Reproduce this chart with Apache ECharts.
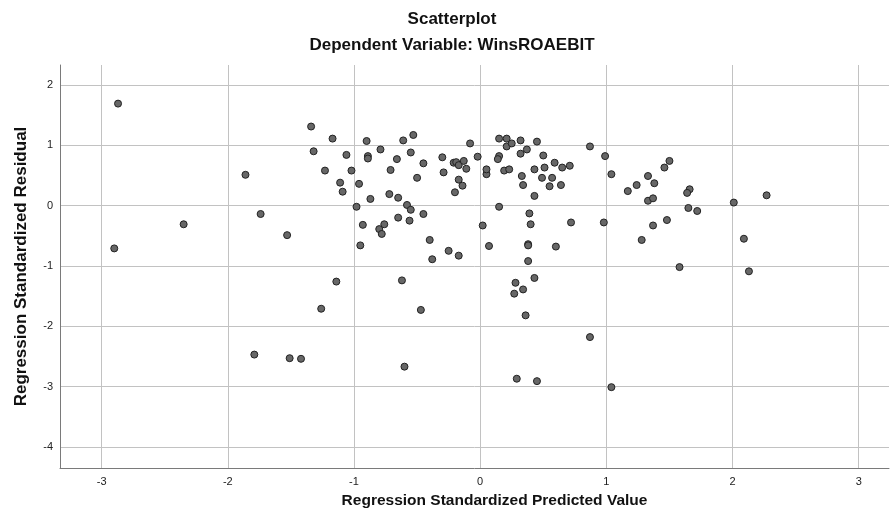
<!DOCTYPE html>
<html>
<head>
<meta charset="utf-8">
<title>Scatterplot</title>
<script src="https://cdn.jsdelivr.net/npm/echarts@6/dist/echarts.min.js"></script>
<style>
  html, body { margin: 0; padding: 0; background: #ffffff; }
  #chart { width: 892px; height: 527px; }
</style>
</head>
<body>
<div id="chart"></div>
<script>
// Regression standardized predicted values (x) and standardized residuals (y)
const predicted = [
  -2.87, -2.90, -2.35, -1.86, -1.74, -1.53, -1.79, -1.51, -1.42, -1.14,
  -1.26, -0.62, -0.47, -0.60, -0.38, -0.25, -0.17, 0.38, 0.43, 0.28,
  0.34, 0.27, 0.36, 0.29, 0.45, 1.58, 2.13, 0.87, 1.04, 0.87,
  0.99, 1.04, 0.65, 0.71, 0.64, 1.17, 1.24, 1.33, 1.38, 1.46,
  1.50, 1.33, 1.37, 1.66, 1.64, 1.65, 1.72, 2.01, 2.27, 0.72,
  0.98, 1.48, 1.37, 1.28, 2.09, -1.34, -1.17, -1.32, -1.06, -1.23,
  -1.02, -1.11, -1.09, -0.96, -0.98, -0.87, -0.90, -0.89, -0.89, -0.79,
  -0.66, -0.71, -0.61, -0.72, -0.65, -0.58, -0.55, -0.65, -0.93, -0.80,
  -0.76, -0.78, -0.95, -0.53, -0.55, -0.45, -0.50, -0.45, -0.56, -0.40,
  -0.30, -0.29, -0.21, -0.19, -0.17, -0.13, -0.11, -0.17, -0.14, -0.20,
  -0.08, -0.02, 0.05, 0.05, 0.15, 0.15, 0.14, 0.21, 0.21, 0.25,
  0.32, 0.45, 0.37, 0.32, 0.19, 0.23, 0.33, 0.34, 0.43, 0.50,
  0.51, 0.49, 0.57, 0.55, 0.59, 0.43, 0.15, 0.02, 0.07, 0.39,
  0.40, 0.38, 0.38, 0.60
];
const residuals = [
  1.69, -0.71, -0.31, 0.51, -0.14, -0.49, -2.47, -2.53, -2.54, -1.26,
  -1.71, -1.24, -1.73, -2.67, -0.89, -0.75, -0.83, -0.92, -1.20, -1.28,
  -1.39, -1.46, -1.82, -2.87, -2.91, -1.02, -1.09, -2.18, -3.01, 0.98,
  0.82, 0.52, 0.63, 0.66, 0.34, 0.24, 0.34, 0.49, 0.37, 0.63,
  0.74, 0.08, 0.12, 0.27, 0.21, -0.04, -0.09, 0.05, 0.17, -0.28,
  -0.28, -0.24, -0.33, -0.57, -0.55, 1.31, 1.11, 0.90, 0.84, 0.58,
  0.58, 0.38, 0.23, 0.36, -0.02, 0.11, 1.07, 0.82, 0.78, 0.93,
  0.77, 0.59, 1.08, 0.19, 0.13, 0.01, -0.07, -0.20, -0.32, -0.39,
  -0.31, -0.47, -0.66, 1.17, 0.88, 0.70, 0.46, -0.14, -0.25, -0.57,
  0.80, 0.55, 0.71, 0.72, 0.67, 0.74, 0.61, 0.43, 0.33, 0.22,
  1.03, 0.81, 0.52, 0.60, 1.11, 0.82, 0.77, 1.11, 0.98, 1.03,
  1.08, 1.06, 0.93, 0.86, 0.58, 0.60, 0.49, 0.34, 0.60, 0.83,
  0.63, 0.46, 0.46, 0.32, 0.71, 0.16, -0.02, -0.33, -0.67, -0.13,
  -0.31, -0.64, -0.66, -0.68
];

// Tick positions on each axis
const xTicks = [-3, -2, -1, 0, 1, 2, 3];
const yTicks = [-4, -3, -2, -1, 0, 1, 2];

// Visible value ranges of the two axes
const xRange = [-3.33, 3.24];
const yRange = [-4.35, 2.33];

const points = predicted.map((x, i) => [x, residuals[i]]);

const FONT = '"Liberation Sans", Arial, sans-serif';

const chart = echarts.init(document.getElementById('chart'), null, { renderer: 'canvas' });

const gridLine = { show: true, lineStyle: { color: '#c2c2c2', width: 1 } };
const axisLine = { show: true, onZero: false, lineStyle: { color: '#7a7a7a', width: 1 } };

chart.setOption({
  animation: false,
  backgroundColor: '#ffffff',
  grid: { left: 60, right: 3, top: 65, bottom: 59, containLabel: false },
  graphic: [
    {
      type: 'text', x: 452, y: 19,
      style: { text: 'Scatterplot', font: 'bold 17px ' + FONT, fill: '#111',
               textAlign: 'center', textVerticalAlign: 'middle' }
    },
    {
      type: 'text', x: 452, y: 45,
      style: { text: 'Dependent Variable: WinsROAEBIT', font: 'bold 17px ' + FONT, fill: '#111',
               textAlign: 'center', textVerticalAlign: 'middle' }
    }
  ],
  xAxis: {
    type: 'value',
    min: xRange[0],
    max: xRange[1],
    axisLine: axisLine,
    axisTick: { show: false, customValues: xTicks },
    axisLabel: { customValues: xTicks, color: '#222', fontFamily: FONT, fontSize: 11, margin: 8 },
    splitLine: gridLine,
    name: 'Regression Standardized Predicted Value',
    nameLocation: 'middle',
    nameGap: 25,
    nameTextStyle: { color: '#111', fontFamily: FONT, fontSize: 15.5, fontWeight: 'bold', padding: [0, 0, 0, 40] }
  },
  yAxis: {
    type: 'value',
    min: yRange[0],
    max: yRange[1],
    axisLine: axisLine,
    axisTick: { show: false, customValues: yTicks },
    axisLabel: { customValues: yTicks, color: '#222', fontFamily: FONT, fontSize: 11, margin: 7 },
    splitLine: gridLine,
    name: 'Regression Standardized Residual',
    nameLocation: 'middle',
    nameGap: 30,
    nameTextStyle: { color: '#111', fontFamily: FONT, fontSize: 17, fontWeight: 'bold' }
  },
  series: [{
    type: 'scatter',
    data: points,
    symbol: 'circle',
    symbolSize: 7,
    itemStyle: { color: '#676767', borderColor: '#222222', borderWidth: 1, opacity: 1 },
    emphasis: { disabled: true }
  }]
});
</script>
</body>
</html>
